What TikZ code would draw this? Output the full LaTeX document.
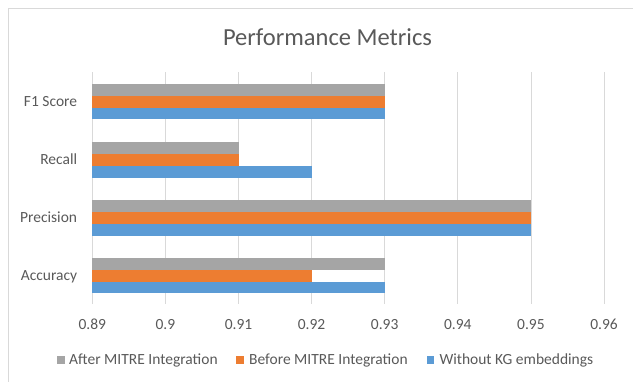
\documentclass[tikz,border=0pt]{standalone}
\usepackage{fontspec}
\setmainfont{Carlito}
\definecolor{txt}{HTML}{595959}
\definecolor{grid}{HTML}{D9D9D9}
\definecolor{cgrey}{HTML}{A5A5A5}
\definecolor{corange}{HTML}{ED7D31}
\definecolor{cblue}{HTML}{5B9BD5}
\begin{document}
\begin{tikzpicture}[x=1pt,y=-1pt,
  gridline/.style={draw=grid,line width=0.8pt},
  lbl/.style={text=txt,font=\fontsize{15.5}{18}\selectfont,inner sep=0pt},
  catlbl/.style={lbl,anchor=base east},
  ticklbl/.style={lbl,anchor=base},
  leglbl/.style={lbl,anchor=base west},
  barA/.style={fill=cgrey},
  barB/.style={fill=corange},
  barC/.style={fill=cblue},
  legsq/.style={minimum size=7.5pt,inner sep=0pt}]
\useasboundingbox (0,0) rectangle (633,381);
\begin{scope}
\clip (0,0) rectangle (633,381);
\draw[grid,line width=0.8pt] (8.3,8.3) rectangle (645,395);
\end{scope}
% title
\node[text=txt,font=\fontsize{24.5}{28}\selectfont,inner sep=0pt,anchor=base] (title) at (327.5,45) {Performance Metrics};
% gridlines and tick labels
\foreach \i/\v in {0/0.89,1/0.9,2/0.91,3/0.92,4/0.93,5/0.94,6/0.95,7/0.96}{
  \draw[gridline] (92.3+73.1*\i,72.3) -- (92.3+73.1*\i,304);
  \node[ticklbl] (t\i) at (92.3+73.1*\i,329.3) {\v};
}
% bars: value -> x = 92.3 + (v-0.89)*7310
\newcommand{\barset}[5]{% #1 center y, #2 label, #3 grey, #4 orange, #5 blue
  \fill[barA] (92.3,#1-17.9) rectangle ({92.3+73.1*#3},#1-6);
  \fill[barB] (92.3,#1-6) rectangle ({92.3+73.1*#4},#1+6);
  \fill[barC] (92.3,#1+6) rectangle ({92.3+73.1*#5},#1+17.9);
}
\barset{101.5}{F1 Score}{4}{4}{4}
\barset{159.6}{Recall}{2}{2}{3}
\barset{217.6}{Precision}{6}{6}{6}
\barset{275.5}{Accuracy}{4}{3}{4}
\node[catlbl] (c1) at (77.3,106.5) {F1 Score};
\node[catlbl] (c2) at (77.3,164.5) {Recall};
\node[catlbl] (c3) at (77.3,222.5) {Precision};
\node[catlbl] (c4) at (77.3,280.4) {Accuracy};
% legend
\node[legsq,fill=cgrey] (l1) at (61,360) {};
\node[leglbl] (lt1) at (69,364.5) {After MITRE Integration};
\node[legsq,fill=corange] (l2) at (240,360) {};
\node[leglbl] (lt2) at (249,364.5) {Before MITRE Integration};
\node[legsq,fill=cblue] (l3) at (430.5,360) {};
\node[leglbl] (lt3) at (439.3,364.5) {Without KG embeddings};
\end{tikzpicture}
\end{document}
